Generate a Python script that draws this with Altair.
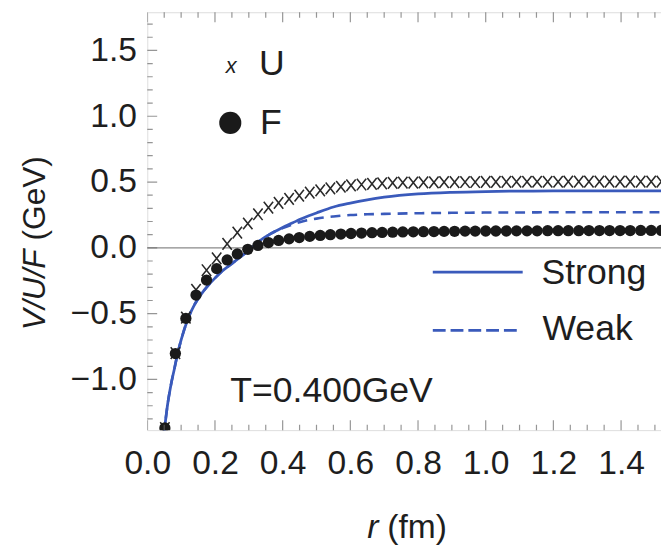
import altair as alt
import pandas as pd

# ---- data ----
r_pts = [0.052, 0.083, 0.114, 0.144, 0.175, 0.205, 0.236, 0.266, 0.297, 0.327,
         0.358, 0.388, 0.419, 0.449, 0.480, 0.511, 0.541, 0.572, 0.602, 0.633,
         0.664, 0.694, 0.725, 0.755, 0.786, 0.816, 0.847, 0.877, 0.908, 0.939,
         0.969, 1.000, 1.030, 1.061, 1.091, 1.122, 1.152, 1.183, 1.214, 1.244,
         1.275, 1.305, 1.336, 1.366, 1.397, 1.427, 1.458, 1.489, 1.519]
F_vals = [-1.368, -0.803, -0.536, -0.359, -0.245, -0.158, -0.092, -0.046, -0.011, 0.018,
          0.040, 0.056, 0.068, 0.078, 0.087, 0.094, 0.100, 0.105, 0.109, 0.112,
          0.115, 0.117, 0.119, 0.121, 0.122, 0.123, 0.124, 0.125, 0.126, 0.127,
          0.127, 0.128, 0.128, 0.128, 0.129, 0.129, 0.129, 0.130, 0.130, 0.130,
          0.130, 0.131, 0.131, 0.131, 0.131, 0.131, 0.132, 0.132, 0.132]
U_vals = [-1.370, -0.800, -0.530, -0.320, -0.170, -0.080, 0.030, 0.115, 0.185, 0.255,
          0.305, 0.342, 0.372, 0.397, 0.420, 0.437, 0.452, 0.464, 0.474, 0.481,
          0.486, 0.490, 0.493, 0.495, 0.496, 0.497, 0.498, 0.499, 0.499, 0.500,
          0.500, 0.501, 0.501, 0.501, 0.502, 0.502, 0.502, 0.502, 0.502, 0.503,
          0.503, 0.503, 0.503, 0.503, 0.503, 0.503, 0.503, 0.503, 0.503]

curve_r = [0.044, 0.05, 0.06, 0.07, 0.08, 0.09, 0.10, 0.12, 0.14, 0.16, 0.18, 0.20,
           0.22, 0.25, 0.28, 0.30, 0.33, 0.36, 0.38, 0.40, 0.43, 0.45, 0.50, 0.55,
           0.60, 0.65, 0.70, 0.80, 0.90, 1.00, 1.10, 1.20, 1.35, 1.52]
strong = [-1.55, -1.40, -1.19, -1.04, -0.92, -0.80, -0.70, -0.54, -0.43, -0.35, -0.285, -0.23,
          -0.18, -0.12, -0.06, -0.02, 0.05, 0.10, 0.128, 0.155, 0.19, 0.215, 0.265, 0.31,
          0.34, 0.365, 0.385, 0.41, 0.422, 0.428, 0.431, 0.432, 0.432, 0.432]
weak = [-1.55, -1.40, -1.19, -1.04, -0.92, -0.80, -0.70, -0.54, -0.43, -0.35, -0.285, -0.23,
        -0.18, -0.12, -0.06, -0.02, 0.05, 0.10, 0.128, 0.150, 0.178, 0.195, 0.222, 0.238,
        0.249, 0.255, 0.258, 0.263, 0.266, 0.268, 0.269, 0.270, 0.270, 0.270]

x_major = [0.0, 0.2, 0.4, 0.6, 0.8, 1.0, 1.2, 1.4]
x_minor = [0.05, 0.1, 0.15, 0.25, 0.3, 0.35, 0.45, 0.5, 0.55, 0.65, 0.7, 0.75,
           0.85, 0.9, 0.95, 1.05, 1.1, 1.15, 1.25, 1.3, 1.35, 1.45, 1.5]
y_major = [-1.0, -0.5, 0.0, 0.5, 1.0, 1.5]
y_minor = [-1.3, -1.2, -1.1, -0.9, -0.8, -0.7, -0.6, -0.4, -0.3, -0.2, -0.1,
           0.1, 0.2, 0.3, 0.4, 0.6, 0.7, 0.8, 0.9, 1.1, 1.2, 1.3, 1.4, 1.6, 1.7]

X_MIN, X_MAX = 0.0, 1.518
Y_MIN, Y_MAX = -1.385, 1.79

# ---- styling ----
FONT = "Liberation Sans"
FS = 34
FS_LEG = 36
TXT = "#1e1e1e"
FRAME = "#6a6a6a"
BLUE = "#3A5ABB"
W, H = 520, 423

pts = pd.DataFrame({"r": r_pts, "U": U_vals, "F": F_vals})
curves = pd.DataFrame({"r": curve_r, "strong": strong, "weak": weak})

xs = alt.Scale(domain=[X_MIN, X_MAX], nice=False, zero=False)
ys = alt.Scale(domain=[Y_MIN, Y_MAX], nice=False, zero=False)
minus = "replace(format(datum.value, '.1f'), '-', '\u2212')"

x_axis = alt.Axis(values=x_major, labelExpr=minus, labelFont=FONT, labelFontSize=FS,
                  labelColor=TXT, ticks=False, tickSize=0, domain=False, grid=False,
                  labelFlush=False, labelOverlap=False, labelPadding=17, title=None)
y_axis = alt.Axis(values=y_major, labelExpr=minus, labelFont=FONT, labelFontSize=FS,
                  labelColor=TXT, ticks=False, tickSize=0, domain=False, grid=False,
                  labelFlush=False, labelOverlap=False, labelPadding=11, title=None)

zero = alt.Chart(alt.Data(values=[{"v": 0}])).mark_rule(color="#8a8a8a", strokeWidth=1.4).encode(
    y=alt.Y("v:Q", scale=ys), x=alt.value(0), x2=alt.value(W))

strong_line = alt.Chart(curves).mark_line(color=BLUE, strokeWidth=2.8, interpolate="monotone", clip=True).encode(
    x=alt.X("r:Q", scale=xs, axis=x_axis), y=alt.Y("strong:Q", scale=ys, axis=y_axis))
weak_line = alt.Chart(curves).mark_line(color=BLUE, strokeWidth=2.6, strokeDash=[10, 7],
                                        interpolate="monotone", clip=True).encode(
    x=alt.X("r:Q", scale=xs), y=alt.Y("weak:Q", scale=ys))

cross_path = "M-0.8,-1L0.8,1M-0.8,1L0.8,-1"
u_pts = alt.Chart(pts).mark_point(shape=cross_path, size=140, filled=False, stroke="#2a2a2a",
                                  strokeWidth=1.6, opacity=1, clip=True).encode(
    x=alt.X("r:Q", scale=xs), y=alt.Y("U:Q", scale=ys))
f_pts = alt.Chart(pts).mark_circle(size=130, color="#1a1a1a", opacity=1, clip=True).encode(
    x=alt.X("r:Q", scale=xs), y=alt.Y("F:Q", scale=ys))

# inward frame ticks (half of each centred tick is clipped away)
def xticks(vals, length, ypos):
    return alt.Chart(pd.DataFrame({"t": vals})).mark_tick(
        orient="vertical", size=2 * length, thickness=1.2, color=FRAME, clip=True).encode(
        x=alt.X("t:Q", scale=xs), y=alt.datum(ypos, scale=ys))

def yticks(vals, length, xpos):
    return alt.Chart(pd.DataFrame({"t": vals})).mark_tick(
        orient="horizontal", size=2 * length, thickness=1.2, color=FRAME, clip=True).encode(
        y=alt.Y("t:Q", scale=ys), x=alt.datum(xpos, scale=xs))

ticks = [xticks(x_major, 10, Y_MIN), xticks(x_minor, 5.5, Y_MIN),
         xticks(x_major, 10, Y_MAX), xticks(x_minor, 5.5, Y_MAX),
         yticks(y_major, 10, X_MIN), yticks(y_minor, 5.5, X_MIN)]

one = alt.Data(values=[{}])

def label(text, x, y, align="left", size=FS_LEG, style="normal", angle=0, color=TXT):
    kw = dict(text=text, align=align, baseline="alphabetic", font=FONT, fontSize=size,
              fontStyle=style, color=color)
    if angle:
        kw["angle"] = angle
    return alt.Chart(one).mark_text(**kw).encode(x=alt.value(x), y=alt.value(y))

texts = [
    label("x", 85, 62, align="center", size=22, style="italic"),
    label("U", 113, 64),
    label("F", 114, 123),
    label("Strong", 399, 275),
    label("Weak", 400, 332),
    label("T=0.400GeV", 84, 395),
    label("r", 234, 532, align="right", style="italic", size=FS),
    label("(fm)", 243, 532, align="left", size=FS),
    label("V/U/F", -104, 240, align="right", style="italic", angle=270, size=32),
    label("(GeV)", -104, 231, align="left", angle=270, size=32),
]

leg_dot = alt.Chart(one).mark_circle(size=500, color="#1a1a1a", opacity=1).encode(
    x=alt.value(84), y=alt.value(112))
leg_strong = alt.Chart(one).mark_rule(color=BLUE, strokeWidth=2.8).encode(
    x=alt.value(289), x2=alt.value(380), y=alt.value(263))
leg_weak = alt.Chart(one).mark_rule(color=BLUE, strokeWidth=2.6, strokeDash=[13, 5]).encode(
    x=alt.value(289), x2=alt.value(376), y=alt.value(322))

chart = alt.layer(
    zero, strong_line, weak_line, u_pts, f_pts, *ticks, leg_dot, leg_strong, leg_weak, *texts
).properties(
    width=W, height=H,
    autosize=alt.AutoSizeParams(type="none"),
    padding={"left": 141, "top": 1, "right": 0, "bottom": 115},
).configure_view(stroke=FRAME, strokeWidth=1.3).configure(background="white")

chart.save("out.html", embed_options={"renderer": "svg", "actions": False})
